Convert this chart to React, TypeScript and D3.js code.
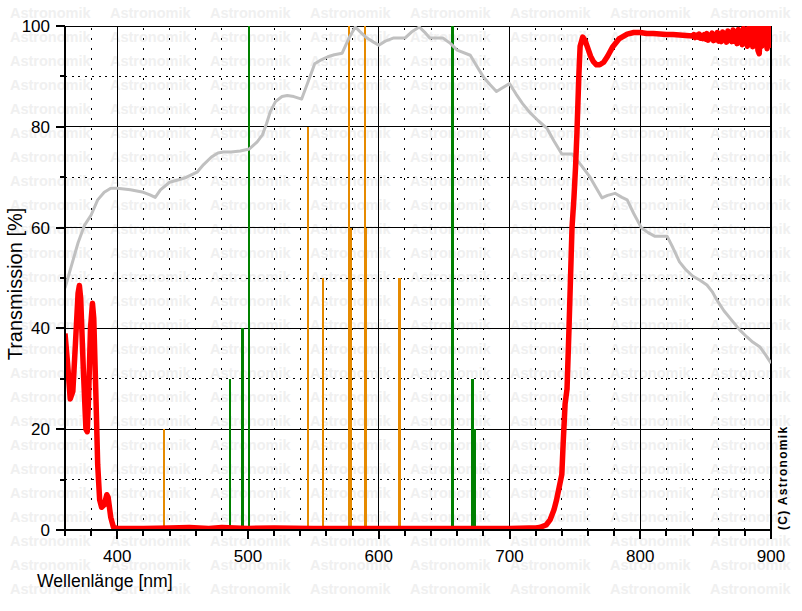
import React from "react";
import * as d3 from "d3";

// ---- data ----
const xTickMajor = [400, 500, 600, 700, 800, 900];
const xTickMinor = d3.range(360, 901, 20);
const yTickMajor = [0, 20, 40, 60, 80, 100];
const yTickMinor = [10, 30, 50, 70, 90];

// reference (gray) curve [nm, %]
const referenceCurve: [number, number][] = [
  [360, 48], [365, 52.5], [370, 57], [375, 60.5], [380, 62.5], [385, 65.5], [390, 67], [395, 67.8],
  [400, 67.8], [410, 67.5], [420, 67], [425, 66.5], [429, 66], [433, 67.5], [440, 69], [447, 69.5],
  [453, 70], [461, 71], [466, 72.5], [472, 74], [477, 74.8], [481, 75], [487, 75], [494, 75.2],
  [501, 75.6], [507, 77], [511, 78.4], [514, 80.5], [517, 83], [521, 85], [526, 86], [530, 86.2],
  [535, 86], [541, 85.5], [546, 89], [551, 92.5], [556, 93.3], [561, 93.9], [566, 94.3], [572, 94.6],
  [577, 97.5], [582, 99.8], [586, 98.8], [591, 97.6], [596, 96.8], [600, 96.2], [605, 97], [611, 97.6],
  [620, 97.6], [625, 98.8], [631, 99.8], [635, 98.8], [639, 97.6], [649, 97.6], [655, 96.5], [660, 95.2],
  [670, 94.2], [675, 92], [680, 89.9], [685, 88.4], [690, 87], [695, 87.8], [700, 88.6], [705, 86.5],
  [710, 84.6], [716, 82.7], [722, 81.2], [728.6, 79.7], [734, 77.2], [740, 74.6], [748, 74.6], [755, 72.3],
  [761.6, 70], [766, 68], [770.7, 65.9], [775, 66.4], [780.7, 66.8], [786, 66], [790, 65.5], [795, 62.8],
  [801, 59.9], [806, 59], [811, 58.3], [820.5, 58.3], [825, 56], [830, 53.2], [835, 51.6], [840, 50.4],
  [846, 49.5], [851, 48.6], [855, 47.3], [858.7, 45.6], [864, 43.5], [871, 41.3], [876, 39.7], [881.6, 38.3],
  [886, 37.3], [891.6, 36.3], [896, 34.7], [900, 33.1],
];

// filter (red) curve [nm, %]
const filterCurve: [number, number][] = [
  [360, 39], [362, 33], [364, 26], [366, 27.5], [368, 37], [370, 47], [371, 48.5], [372, 46],
  [374, 32], [376, 20], [377, 19.5], [378, 26], [379.5, 40], [381, 45], [382, 42], [383.5, 28],
  [385, 13], [386.5, 6], [388, 4.5], [390, 5], [392, 7], [393, 6.5], [395, 2.5], [397, 0.6],
  [400, 0.3], [420, 0.3], [440, 0.4], [455, 0.5], [470, 0.3], [480, 0.5], [500, 0.3], [520, 0.4],
  [550, 0.3], [600, 0.3], [650, 0.3], [700, 0.3], [715, 0.4], [720, 0.4], [723, 0.5], [728, 1],
  [731, 2], [734, 4], [736, 6], [738, 8.5], [740, 11], [741, 17], [742.5, 25], [744, 28],
  [745.5, 40], [747.8, 60], [749.3, 66], [750.5, 72], [751.6, 79], [753, 90], [754, 96], [756, 97.8],
  [758, 97], [760, 95.5], [762, 94], [764, 93], [766.5, 92.3], [769, 92.3], [772, 92.8], [775, 94],
  [779, 95.9], [784, 97.5], [790, 98.4], [795, 98.7], [800, 98.7], [805, 98.5], [810, 98.5], [815, 98.4],
  [820, 98.3], [825, 98.3], [830, 98.2], [835, 98.1], [840, 98.0], [841, 98.3], [842, 97.7], [843, 98.2],
  [844, 97.8], [845, 98.4], [846, 97.6], [847, 98.1], [848, 97.5], [849, 98.3], [850, 97.4], [851, 98.5],
  [852, 97.2], [853, 98.0], [854, 97.6], [855, 98.6], [856, 97.1], [857, 98.2], [858, 97.3], [859, 98.7],
  [860, 97.0], [861, 98.4], [862, 96.9], [863, 98.8], [864, 97.4], [865, 98.1], [866, 96.8], [867, 99.0],
  [868, 97.2], [869, 98.5], [870, 96.9], [871, 99.2], [872, 97.0], [873, 98.6], [874, 96.5], [875, 99.3],
  [876, 97.4], [877, 98.9], [878, 96.3], [879, 99.5], [880, 96.8], [881, 99.1], [882, 96.0], [883, 99.6],
  [884, 97.1], [885, 100], [886, 95.9], [887, 99.2], [888, 96.6], [889, 100], [890, 95.2], [891, 94.5],
  [892, 99.8], [893, 96.0], [894, 100], [895, 96.8], [896, 99.4], [897, 95.5], [898, 100], [899, 96.2],
  [900, 99.0],
];

// emission lines [nm, relative height %]
const orangeLines: [number, number][] = [
  [435.8, 20], [546.1, 80], [557.7, 50], [577.0, 100], [579.1, 60], [589.6, 100], [590.2, 60],
  [615.5, 50], [616.1, 50],
];
const greenLines: [number, number][] = [
  [486.1, 30], [495.9, 40], [500.7, 100], [656.3, 100], [671.6, 30], [673.1, 20],
];

const watermarkText = "Astronomik";

const W = 802;
const H = 611;
const FONT = "'Liberation Sans', Arial, Helvetica, sans-serif";

export default function App() {
  const x = d3.scaleLinear().domain([360, 900]).range([65, 771]);
  const y = d3.scaleLinear().domain([0, 100]).range([530, 26]);
  const line = d3
    .line<[number, number]>()
    .x((d) => x(d[0]))
    .y((d) => y(d[1]));

  const wmRows = d3.range(0, 25);
  const wmCols = d3.range(0, 8);

  const minorX = xTickMinor.filter((v) => v % 100 !== 0 && v !== 360 && v !== 900);
  const majorXGrid = xTickMajor.filter((v) => v !== 900);

  return (
    <svg
      width={W}
      height={H}
      style={{ position: "absolute", left: 0, top: 0, background: "#fff" }}
      fontFamily={FONT}
    >
      <defs>
        <clipPath id="plot">
          <rect x={x(360)} y={y(100)} width={x(900) - x(360)} height={y(0) - y(100)} />
        </clipPath>
      </defs>
      <rect x={0} y={0} width={W} height={H} fill="#fff" />
      {/* watermark */}
      <g fill="#f0f0f0" fontWeight="bold" fontSize={14.5}>
        {wmRows.map((r) =>
          wmCols.map((c) => (
            <text key={`${r}-${c}`} x={10 + c * 100} y={18 + r * 24}>
              {watermarkText}
            </text>
          ))
        )}
      </g>
      {/* grid */}
      <g shapeRendering="crispEdges">
        {minorX.map((v) => (
          <line key={"mx" + v} x1={x(v)} x2={x(v)} y1={y(0)} y2={y(100)} stroke="#000" strokeWidth={1} strokeDasharray="2,8" />
        ))}
        {yTickMinor.map((v) => (
          <line key={"my" + v} x1={x(360)} x2={x(900)} y1={y(v)} y2={y(v)} stroke="#000" strokeWidth={1} strokeDasharray="2,4.7" />
        ))}
        {majorXGrid.map((v) => (
          <line key={"Mx" + v} x1={x(v)} x2={x(v)} y1={y(0)} y2={y(100)} stroke="#000" strokeWidth={1} />
        ))}
        {[20, 40, 60, 80, 100].map((v) => (
          <line key={"My" + v} x1={x(360)} x2={x(900)} y1={y(v)} y2={y(v)} stroke="#000" strokeWidth={1} />
        ))}
        <line x1={x(900)} x2={x(900)} y1={y(0)} y2={y(100)} stroke="#000" strokeWidth={1.5} />
      </g>
      {/* emission lines */}
      <g shapeRendering="crispEdges" clipPath="url(#plot)">
        {orangeLines.map((d, i) => (
          <line key={"o" + i} x1={x(d[0])} x2={x(d[0])} y1={y(0)} y2={y(d[1])} stroke="#e68a00" strokeWidth={2} />
        ))}
        {greenLines.map((d, i) => (
          <line key={"g" + i} x1={x(d[0])} x2={x(d[0])} y1={y(0)} y2={y(d[1])} stroke="#008000" strokeWidth={2.4} />
        ))}
      </g>
      {/* curves */}
      <g clipPath="url(#plot)" fill="none">
        <path d={line(referenceCurve) || ""} stroke="#c0c0c0" strokeWidth={3} strokeLinejoin="round" />
        <path d={line(filterCurve) || ""} stroke="#ff0000" strokeWidth={5.5} strokeLinejoin="round" />
      </g>
      {/* axes */}
      <g shapeRendering="crispEdges" stroke="#000">
        <line x1={x(360)} x2={x(360)} y1={y(0) + 1} y2={y(100)} strokeWidth={2} />
        <line x1={x(360) - 1} x2={x(900) + 1} y1={y(0)} y2={y(0)} strokeWidth={2} />
        {xTickMinor.map((v) => (
          <line key={"tx" + v} x1={x(v)} x2={x(v)} y1={y(0)} y2={y(0) + (v % 100 === 0 ? 9 : 6)} strokeWidth={2} />
        ))}
        {yTickMajor.map((v) => (
          <line key={"ty" + v} x1={x(360) - 9} x2={x(360)} y1={y(v)} y2={y(v)} strokeWidth={2} />
        ))}
        {yTickMinor.map((v) => (
          <line key={"tym" + v} x1={x(360) - 5} x2={x(360)} y1={y(v)} y2={y(v)} strokeWidth={2} />
        ))}
      </g>
      {/* tick labels */}
      <g fontSize={17} fill="#000">
        {xTickMajor.map((v) => (
          <text key={"lx" + v} x={x(v)} y={562} textAnchor="middle">
            {v}
          </text>
        ))}
        {yTickMajor.map((v) => (
          <text key={"ly" + v} x={50} y={y(v) + 6} textAnchor="end">
            {v}
          </text>
        ))}
      </g>
      <text x={37} y={587} fontSize={17.6} fill="#000">
        Wellenlänge [nm]
      </text>
      <text transform="translate(22,284) rotate(-90)" textAnchor="middle" fontSize={20} fill="#000">
        Transmission [%]
      </text>
      <text
        transform="translate(787,530) rotate(-90)"
        textAnchor="start"
        fontSize={12}
        fontWeight="bold"
        letterSpacing={1.3}
        fill="#000"
      >
        (C) Astronomik
      </text>
    </svg>
  );
}
